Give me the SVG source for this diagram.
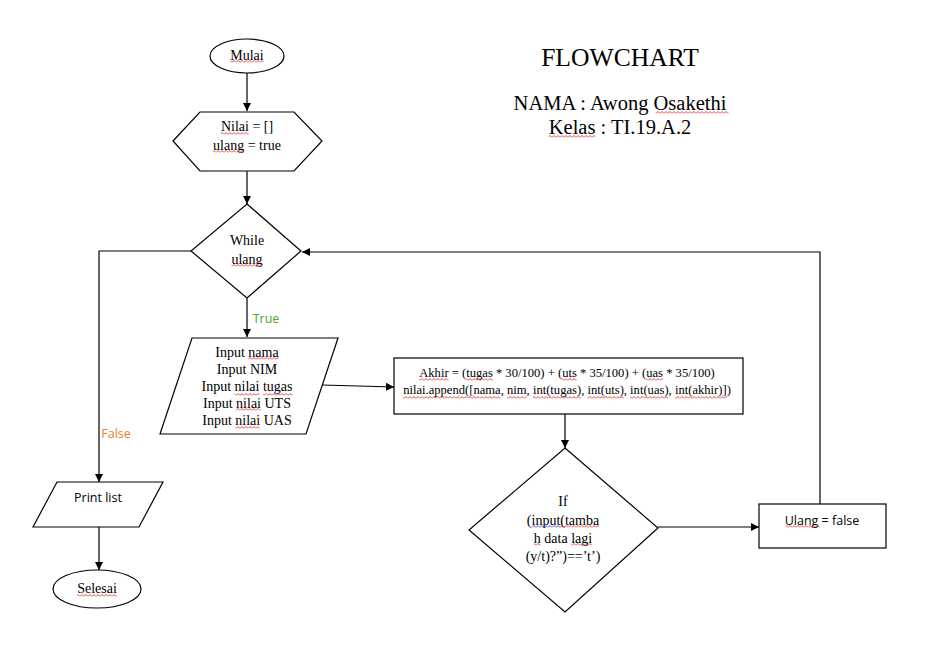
<svg xmlns="http://www.w3.org/2000/svg" width="941" height="659" viewBox="0 0 941 659">
<style>
.s{fill:#fff;stroke:#000;stroke-width:1.2}
.c{fill:none;stroke:#000;stroke-width:1.2}
.t{font-family:"Liberation Serif","Times New Roman",serif;font-size:14px;fill:#000;text-anchor:middle}
.sm{font-size:12.6px}
.sans{font-family:"Open Sans","Liberation Sans",sans-serif;font-size:12.5px;fill:#000;text-anchor:middle}
.h{font-family:"Liberation Serif","Times New Roman",serif;fill:#000;text-anchor:middle}
.w{fill:url(#wr)}
.wb{fill:url(#wbl)}
</style>
<defs>
<marker id="ah" viewBox="0 0 10 10" refX="10" refY="5" markerWidth="8" markerHeight="8" markerUnits="userSpaceOnUse" orient="auto">
<path d="M0,0 L10,5 L0,10 z" fill="#000"/>
</marker>
<pattern id="wr" width="4" height="3" patternUnits="userSpaceOnUse">
<path d="M0,2.5 L2,0.5 L4,2.5" fill="none" stroke="#e01010" stroke-width="0.8"/>
</pattern>
<pattern id="wbl" width="4" height="3" patternUnits="userSpaceOnUse">
<path d="M0,2.5 L2,0.5 L4,2.5" fill="none" stroke="#2030e0" stroke-width="0.8"/>
</pattern>
</defs>
<rect width="941" height="659" fill="#fff"/>
<g id="title">
<text class="h" x="620" y="66" font-size="25.6">FLOWCHART</text>
<text class="h" x="620" y="110" font-size="20.5">NAMA : Awong Osakethi</text>
<text class="h" x="620" y="134" font-size="20.5">Kelas : TI.19.A.2</text>
<rect class="w" x="655.6" y="111" width="72.9" height="3"/>
<rect class="w" x="548.5" y="135" width="46.7" height="3"/>
</g>
<g id="connectors">
<line class="c" x1="247" y1="73" x2="247" y2="111" marker-end="url(#ah)"/>
<line class="c" x1="247" y1="171" x2="247" y2="204" marker-end="url(#ah)"/>
<line class="c" x1="247" y1="298" x2="247" y2="337" marker-end="url(#ah)"/>
<line class="c" x1="322" y1="385" x2="394" y2="387" marker-end="url(#ah)"/>
<line class="c" x1="565" y1="414" x2="565" y2="448" marker-end="url(#ah)"/>
<line class="c" x1="658" y1="527" x2="759" y2="527" marker-end="url(#ah)"/>
<polyline class="c" points="820,504 820,252 302,252" marker-end="url(#ah)"/>
<polyline class="c" points="191,251 99,251 99,482" marker-end="url(#ah)"/>
<line class="c" x1="99" y1="527" x2="99" y2="570" marker-end="url(#ah)"/>
<text x="266" y="323" font-family="Open Sans,Liberation Sans,sans-serif" font-size="12.5" fill="#4EA72E" text-anchor="middle">True</text>
<text x="116" y="438" font-family="Open Sans,Liberation Sans,sans-serif" font-size="12.5" fill="#ED7D31" text-anchor="middle">False</text>
</g>
<g id="mulai">
<ellipse class="s" cx="247" cy="56" rx="37" ry="17"/>
<text class="t" x="247" y="60">Mulai</text>
<rect class="w" x="230.3" y="60" width="33.4" height="3"/>
</g>
<g id="init">
<polygon class="s" points="173,141 200,112 294,112 322,141 294,171 200,171"/>
<text class="t" x="247" y="131">Nilai = []</text>
<text class="t" x="247" y="150">ulang = true</text>
<rect class="w" x="220.9" y="132" width="28" height="3"/>
<rect class="w" x="213.1" y="150" width="31.1" height="3"/>
</g>
<g id="while">
<polygon class="s" points="247,204 301,251 247,298 191,251"/>
<text class="t" x="247" y="245">While</text>
<text class="t" x="247" y="264">ulang</text>
<rect class="w" x="231.4" y="264" width="31.2" height="3"/>
</g>
<g id="input">
<polygon class="s" points="192,338 338,338 306,434 160,434"/>
<text class="t" x="247" y="357">Input nama</text>
<text class="t" x="247" y="374">Input NIM</text>
<text class="t" x="247" y="391">Input nilai tugas</text>
<text class="t" x="247" y="408">Input nilai UTS</text>
<text class="t" x="247" y="425">Input nilai UAS</text>
<rect class="w" x="248.4" y="357" width="30.3" height="3"/>
<rect class="w" x="234.6" y="393" width="24.9" height="3"/>
<rect class="w" x="263" y="393" width="29.6" height="3"/>
<rect class="w" x="236.1" y="408" width="24.9" height="3"/>
<rect class="w" x="235.3" y="426" width="24.9" height="3"/>
</g>
<g id="proses">
<rect class="s" x="394" y="358" width="349" height="56"/>
<text class="t sm" x="567" y="377">Akhir = (tugas * 30/100) + (uts * 35/100) + (uas * 35/100)</text>
<text class="t sm" x="567" y="394">nilai.append([nama, nim, int(tugas), int(uts), int(uas), int(akhir)])</text>
<rect class="w" x="419.2" y="378" width="29.4" height="3"/>
<rect class="w" x="466.2" y="378" width="26.6" height="3"/>
<rect class="w" x="562.2" y="378" width="14.7" height="3"/>
<rect class="w" x="646.3" y="378" width="16.8" height="3"/>
<rect class="w" x="403" y="396" width="97.6" height="3"/>
<rect class="w" x="506.9" y="396" width="19.6" height="3"/>
<rect class="w" x="532.8" y="396" width="48.3" height="3"/>
<rect class="w" x="587.4" y="396" width="36.4" height="3"/>
<rect class="w" x="630.1" y="396" width="38.5" height="3"/>
<rect class="w" x="674.9" y="396" width="51.8" height="3"/>
</g>
<g id="if">
<polygon class="s" points="565,448 658,528 565,612 469,530"/>
<text class="t" x="563" y="506">If</text>
<text class="t" x="563" y="525">(input(tamba</text>
<text class="t" x="563" y="543">h data lagi</text>
<text class="t" x="563" y="561">(y/t)?”)==’t’)</text>
<rect class="wb" x="531.5" y="525" width="28.7" height="3"/>
<rect class="w" x="560.2" y="525" width="38.8" height="3"/>
<rect class="w" x="533.8" y="543" width="7" height="3"/>
<rect class="w" x="571.1" y="543" width="21" height="3"/>
</g>
<g id="ulangfalse">
<rect class="s" x="759" y="504" width="127" height="44"/>
<text class="sans" x="822" y="525">Ulang = false</text>
<rect class="w" x="786" y="525" width="34" height="3"/>
</g>
<g id="print">
<polygon class="s" points="57,482 163,482 139,527 33,527"/>
<text class="sans" x="98" y="502">Print list</text>
</g>
<g id="selesai">
<ellipse class="s" cx="97" cy="589" rx="44" ry="19"/>
<text class="t" x="97" y="593">Selesai</text>
<rect class="w" x="77.2" y="594" width="39.6" height="3"/>
</g>
</svg>
